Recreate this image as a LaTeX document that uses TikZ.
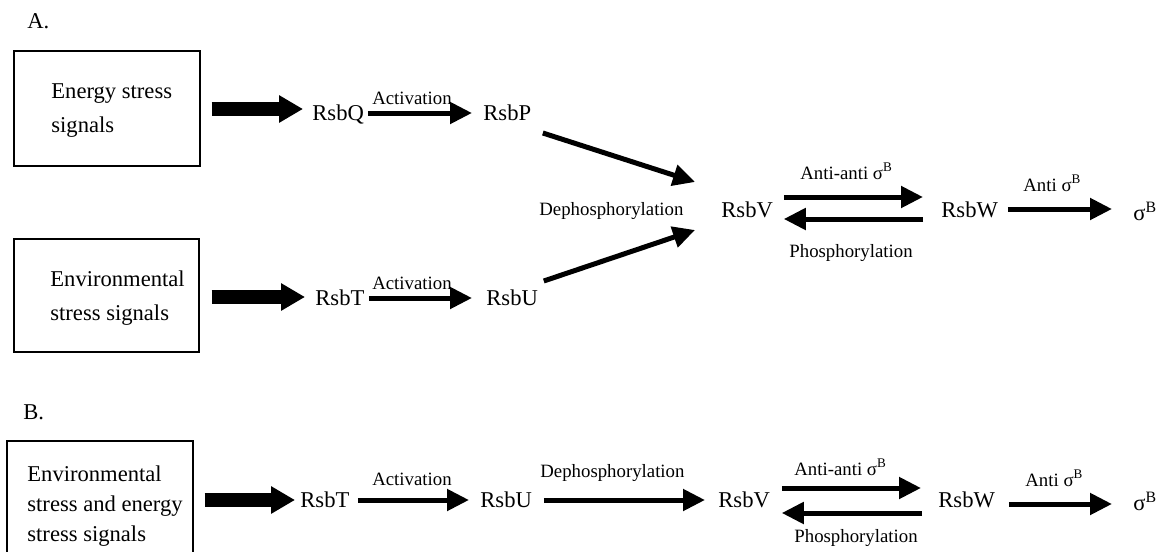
\documentclass[tikz,border=0pt]{standalone}
\usepackage{fontspec}
\setmainfont{Liberation Serif}
\usetikzlibrary{arrows.meta}
\newcommand{\mainsz}{\fontsize{11.3}{17}\selectfont}
\newcommand{\smallsz}{\fontsize{9.4}{12}\selectfont}
\newcommand{\sigB}{σ\textsuperscript{B}}
\tikzset{
  x=0.5pt, y=-0.5pt,
  frame/.style={draw, line width=0.6pt, inner sep=0pt},
  txt/.style={inner sep=0pt, anchor=base west, font=\mainsz},
  boxtxt/.style={inner sep=0pt, anchor=base west, font=\mainsz, align=left},
  lab/.style={inner sep=0pt, anchor=base west, font=\smallsz},
  labc/.style={inner sep=0pt, anchor=base, font=\smallsz},
  bigarr/.style={line width=6.75pt, -{Triangle[length=12pt,width=13pt]}},
  arr/.style={line width=2.5pt, -{Triangle[length=11pt,width=10.5pt]}}
}
\begin{document}
\begin{tikzpicture}
\useasboundingbox (0,0) rectangle (1158,552);
\clip (0,0) rectangle (1158,552);
% ---------------- A ----------------
\node[txt] (labA) at (27,28) {A.};
\node[frame, minimum width=93pt, minimum height=57.5pt] (box1) at (107,108.5) {};
\node[boxtxt] (t1) at (51,132) {Energy stress\\signals};
\node[frame, minimum width=92.5pt, minimum height=56.5pt] (box2) at (106.5,295.5) {};
\node[boxtxt] (t2) at (50,320) {Environmental\\stress signals};

\node[txt] (RsbQ) at (312,120) {RsbQ};
\node[txt] (RsbP) at (483,120.5) {RsbP};
\node[txt] (RsbTa) at (315,305.5) {RsbT};
\node[txt] (RsbUa) at (486,305.5) {RsbU};
\node[txt] (RsbVa) at (721,217.5) {RsbV};
\node[txt] (RsbWa) at (941,217.5) {RsbW};
\node[txt] (sigA) at (1133,220) {\sigB};

\node[labc] (act1) at (412,104) {Activation};
\node[labc] (act2) at (412,289) {Activation};
\node[lab] (depA) at (539,215) {Dephosphorylation};
\node[lab] (aaA) at (800,179) {Anti-anti \sigB};
\node[lab] (phA) at (789,257) {Phosphorylation};
\node[lab] (anA) at (1023,191) {Anti \sigB};

\draw[bigarr] ([shift={(11,0.5)}]box1.east) -- ([shift={(-9,-11)}]RsbQ.base west);
\draw[bigarr] ([shift={(12,1.5)}]box2.east) -- ([shift={(-10,-8.5)}]RsbTa.base west);
\draw[arr] ([shift={(3.5,-7)}]RsbQ.base east) -- ([shift={(-11,-7.5)}]RsbP.base west);
\draw[arr] ([shift={(4,-7.5)}]RsbTa.base east) -- ([shift={(-14,-7.5)}]RsbUa.base west);
\draw[arr] ([shift={(11.3,12.5)}]RsbP.base east) -- ([shift={(-26,-35.5)}]RsbVa.base west);
\draw[arr] ([shift={(5.5,-24.5)}]RsbUa.base east) -- ([shift={(-26,12.5)}]RsbVa.base west);
\draw[arr] ([shift={(10.5,-20.5)}]RsbVa.base east) -- ([shift={(-18,-20.5)}]RsbWa.base west);
\draw[arr] ([shift={(-18,1.5)}]RsbWa.base west) -- ([shift={(10.5,1.5)}]RsbVa.base east);
\draw[arr] ([shift={(9.5,-8.5)}]RsbWa.base east) -- ([shift={(-21,-11)}]sigA.base west);

% ---------------- B ----------------
\node[txt] (labB) at (23,419) {B.};
\node[frame, minimum width=93pt, minimum height=59.5pt] (box3) at (100,500.5) {};
\node[boxtxt, font=\fontsize{11.3}{15}\selectfont] (t3) at (27,541) {Environmental\\stress and energy\\stress signals};

\node[txt] (RsbTb) at (300,507) {RsbT};
\node[txt] (RsbUb) at (480,507) {RsbU};
\node[txt] (RsbVb) at (718,507) {RsbV};
\node[txt] (RsbWb) at (938,507) {RsbW};
\node[txt] (sigB) at (1133,510) {\sigB};

\node[labc] (act3) at (412,485) {Activation};
\node[lab] (depB) at (540,477) {Dephosphorylation};
\node[lab] (aaB) at (794,475) {Anti-anti \sigB};
\node[lab] (phB) at (794,542) {Phosphorylation};
\node[lab] (anB) at (1025,486) {Anti \sigB};

\draw[bigarr] ([shift={(11,-0.5)}]box3.east) -- ([shift={(-5,-7)}]RsbTb.base west);
\draw[arr] ([shift={(8,-7)}]RsbTb.base east) -- ([shift={(-11,-7)}]RsbUb.base west);
\draw[arr] ([shift={(11.5,-7)}]RsbUb.base east) -- ([shift={(-13,-7)}]RsbVb.base west);
\draw[arr] ([shift={(11.5,-19)}]RsbVb.base east) -- ([shift={(-17,-19)}]RsbWb.base west);
\draw[arr] ([shift={(-16,6)}]RsbWb.base west) -- ([shift={(11.5,6)}]RsbVb.base east);
\draw[arr] ([shift={(13.5,-3)}]RsbWb.base east) -- ([shift={(-21,-6)}]sigB.base west);
\end{tikzpicture}
\end{document}
